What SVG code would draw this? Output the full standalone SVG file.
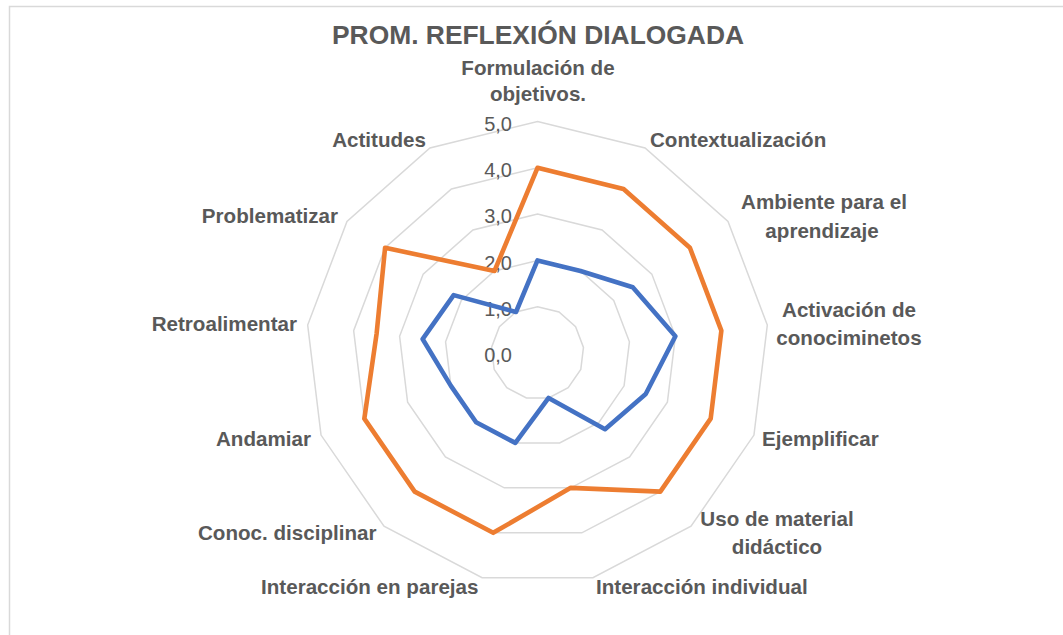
<svg xmlns="http://www.w3.org/2000/svg" width="1063" height="635" viewBox="0 0 1063 635">
<style>
.frame{fill:#ffffff;stroke:#d9d9d9;stroke-width:1.5}
.title{font-family:"Liberation Sans",Arial,sans-serif;font-weight:bold;font-size:26.4px;fill:#595959}
.cat{font-family:"Liberation Sans",Arial,sans-serif;font-weight:bold;font-size:20.6px;fill:#595959}
.val{font-family:"Liberation Sans",Arial,sans-serif;font-size:20px;fill:#595959;text-anchor:end}
.ring{fill:none;stroke:#d9d9d9;stroke-width:1.5;vector-effect:non-scaling-stroke}
.series{fill:none;stroke-width:4.6;stroke-linejoin:round;vector-effect:non-scaling-stroke}
.blue{stroke:#4472c4}
.orange{stroke:#ed7d31}
</style>
<rect class="frame" x="9.5" y="6.5" width="1100" height="700"/>
<text id="title" class="title" x="538" y="43.5" text-anchor="middle">PROM. REFLEXIÓN DIALOGADA</text>
<g id="grid" transform="translate(537.5 353) scale(46.3)">
<polygon class="ring" points="0,-1 0.46472,-0.88546 0.82298,-0.56806 0.99271,-0.12054 0.93502,0.35460 0.66312,0.74851 0.23932,0.97094 -0.23932,0.97094 -0.66312,0.74851 -0.93502,0.35460 -0.99271,-0.12054 -0.82298,-0.56806 -0.46472,-0.88546"/>
<polygon class="ring" points="0,-2 0.92944,-1.77092 1.64596,-1.13612 1.98542,-0.24108 1.87004,0.7092 1.32624,1.49702 0.47864,1.94188 -0.47864,1.94188 -1.32624,1.49702 -1.87004,0.7092 -1.98542,-0.24108 -1.64596,-1.13612 -0.92944,-1.77092"/>
<polygon class="ring" points="0,-3 1.39416,-2.65638 2.46894,-1.70418 2.97813,-0.36162 2.80506,1.0638 1.98936,2.24553 0.71796,2.91282 -0.71796,2.91282 -1.98936,2.24553 -2.80506,1.0638 -2.97813,-0.36162 -2.46894,-1.70418 -1.39416,-2.65638"/>
<polygon class="ring" points="0,-4 1.85888,-3.54184 3.29192,-2.27224 3.97084,-0.48216 3.74008,1.4184 2.65248,2.99404 0.95728,3.88376 -0.95728,3.88376 -2.65248,2.99404 -3.74008,1.4184 -3.97084,-0.48216 -3.29192,-2.27224 -1.85888,-3.54184"/>
<polygon class="ring" points="0,-5 2.3236,-4.4273 4.1149,-2.8403 4.96355,-0.6027 4.6751,1.773 3.3156,3.74255 1.1966,4.8547 -1.1966,4.8547 -3.3156,3.74255 -4.6751,1.773 -4.96355,-0.6027 -4.1149,-2.8403 -2.3236,-4.4273"/>
</g>
<g id="value-labels">
<text class="val" x="512" y="130.8">5,0</text>
<text class="val" x="512" y="177.1">4,0</text>
<text class="val" x="512" y="223.4">3,0</text>
<text class="val" x="512" y="269.7">2,0</text>
<text class="val" x="512" y="316">1,0</text>
<text class="val" x="512" y="362.3">0,0</text>
</g>
<g id="connectors" transform="translate(537.5 353) scale(46.3)">
<polygon id="series-blue" class="series blue" points="0,-2 0.92944,-1.77092 2.05745,-1.42015 2.97813,-0.36162 2.33755,0.8865 1.45886,1.64672 0.23932,0.97094 -0.47864,1.94188 -1.32624,1.49702 -1.87004,0.7092 -2.48178,-0.30135 -1.81056,-1.24973 -0.46472,-0.88546"/>
<polygon id="series-orange" class="series orange" points="0,-4 1.85888,-3.54184 3.29192,-2.27224 3.97084,-0.48216 3.74008,1.4184 2.65248,2.99404 0.71796,2.91282 -0.95728,3.88376 -2.65248,2.99404 -3.74008,1.4184 -3.47449,-0.42189 -3.29192,-2.27224 -0.92944,-1.77092"/>
</g>
<g id="cat-formulacion"><text class="cat" x="538" y="75" text-anchor="middle">Formulación de</text><text class="cat" x="538" y="101" text-anchor="middle">objetivos.</text></g>
<g id="cat-contextualizacion"><text class="cat" x="650" y="146.5">Contextualización</text></g>
<g id="cat-ambiente"><text class="cat" x="824" y="209" text-anchor="middle">Ambiente para el</text><text class="cat" x="822" y="238" text-anchor="middle">aprendizaje</text></g>
<g id="cat-activacion"><text class="cat" x="849" y="316.7" text-anchor="middle">Activación de</text><text class="cat" x="849" y="345" text-anchor="middle">conociminetos</text></g>
<g id="cat-ejemplificar"><text class="cat" x="762" y="445.5">Ejemplificar</text></g>
<g id="cat-uso"><text class="cat" x="777" y="525.5" text-anchor="middle">Uso de material</text><text class="cat" x="777" y="554" text-anchor="middle">didáctico</text></g>
<g id="cat-individual"><text class="cat" x="596" y="594">Interacción individual</text></g>
<g id="cat-parejas"><text class="cat" x="478.5" y="594" text-anchor="end">Interacción en parejas</text></g>
<g id="cat-conoc"><text class="cat" x="376.5" y="540" text-anchor="end">Conoc. disciplinar</text></g>
<g id="cat-andamiar"><text class="cat" x="311" y="446" text-anchor="end">Andamiar</text></g>
<g id="cat-retroalimentar"><text class="cat" x="297" y="330.5" text-anchor="end">Retroalimentar</text></g>
<g id="cat-problematizar"><text class="cat" x="338" y="223" text-anchor="end">Problematizar</text></g>
<g id="cat-actitudes"><text class="cat" x="426" y="146.5" text-anchor="end">Actitudes</text></g>
</svg>
